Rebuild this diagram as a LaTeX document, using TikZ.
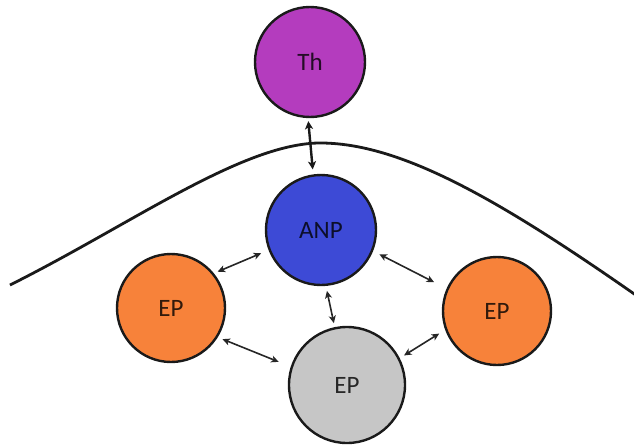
\documentclass[tikz,border=0pt]{standalone}
\usepackage{fontspec}
\setmainfont{Carlito}
\usetikzlibrary{arrows.meta}
\definecolor{thc}{HTML}{B43CBE}
\definecolor{anpc}{HTML}{3D4AD6}
\definecolor{epo}{HTML}{F7823A}
\definecolor{epg}{HTML}{C6C6C6}
\definecolor{outl}{HTML}{1A1A1A}
\begin{document}
\begin{tikzpicture}[x=1pt,y=-1pt,
  cell/.style={circle,draw=outl,line width=2.4pt,inner sep=0pt,font=\fontsize{25}{28}\selectfont,text opacity=0.8},
  link/.style={{Stealth[length=7.5pt,width=7pt,inset=2pt]}-{Stealth[length=7.5pt,width=7pt,inset=2pt]},line width=1.6pt,draw=black!85},
  biglink/.style={{Stealth[length=8pt,width=8pt,inset=2pt]}-{Stealth[length=8pt,width=8pt,inset=2pt]},line width=2.4pt,draw=black!90}]
\useasboundingbox (0,0) rectangle (634,447);
% membrane curve
\draw[line width=2.8pt,outl] (10,285) .. controls (130,225) and (240,145) .. (318,143) .. controls (400,142) and (500,200) .. (640,298);
% cells
\node[cell,fill=thc,minimum size=110pt] (th) at (310,62) {Th};
\node[cell,fill=anpc,minimum size=110pt] (anp) at (321,230) {ANP};
\node[cell,fill=epo,minimum size=108pt] (epl) at (171,308) {EP};
\node[cell,fill=epo,minimum size=108pt] (epr) at (497,311) {EP};
\node[cell,fill=epg,minimum size=116pt] (epb) at (347,385) {EP};
% connectors
\draw[biglink,shorten <=3pt,shorten >=5pt] (th.268) -- (anp.98);
\draw[link,shorten <=8pt,shorten >=4pt] (anp.201) -- (epl.39);
\draw[link,shorten <=7pt,shorten >=14pt] (anp.338) -- (epr.156);
\draw[link,shorten <=5pt,shorten >=4pt] (anp.275) -- (epb.102);
\draw[link,shorten <=5pt,shorten >=13pt] (epl.328) -- (epb.162);
\draw[link,shorten <=7pt,shorten >=5pt] (epr.200) -- (epb.27);
\end{tikzpicture}
\end{document}
